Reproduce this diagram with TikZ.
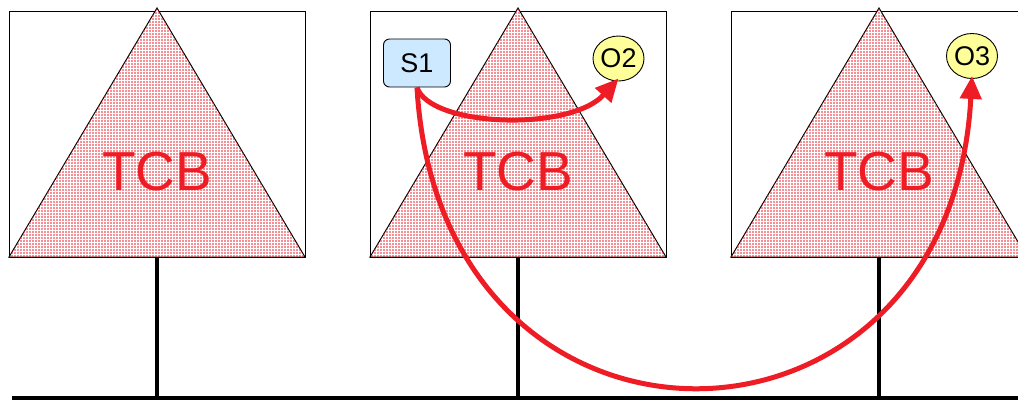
\documentclass[tikz,border=0pt]{standalone}
\usepackage{fontspec}
\setmainfont{Liberation Sans}
\usetikzlibrary{patterns.meta,arrows.meta,shapes.geometric}
\definecolor{tcbred}{HTML}{EE1C25}
\definecolor{sblue}{HTML}{CCE9FF}
\definecolor{oyellow}{HTML}{FFFF99}
\tikzset{
  host/.style={draw=black,line width=1pt},
  tcb/.style={draw=black,line width=1pt,fill=white,postaction={pattern={Dots[distance=3pt,radius=0.95pt]},pattern color=tcbred}},
  tcblabel/.style={text=tcbred,font=\fontsize{55}{55}\selectfont,inner sep=0pt},
  wire/.style={draw=black,line width=3.2pt},
  subj/.style={draw=black,line width=0.9pt,fill=sblue,rounded corners=6pt,minimum width=67pt,minimum height=48pt,inner sep=0pt,font=\fontsize{27}{27}\selectfont},
  obj/.style={draw=black,line width=0.9pt,fill=oyellow,ellipse,minimum width=51pt,minimum height=45pt,inner sep=0pt,font=\fontsize{27}{27}\selectfont},
  flow/.style={draw=tcbred,line width=5pt,-{Triangle[length=23pt,width=21pt]}}
}
\begin{document}
\begin{tikzpicture}[x=1pt,y=-1pt]
\useasboundingbox (0,0) rectangle (1018,400);
% hosts
\foreach \cx/\n in {157/1,518/2,879/3}{
  \draw[host] (\cx-148,11) rectangle (\cx+148,257);
  \draw[tcb] (\cx,8) -- (\cx+148,257) -- (\cx-148,257) -- cycle;
  \node[tcblabel] (tcb\n) at (\cx,172) {TCB};
  \coordinate (base\n) at (\cx,257);
  \coordinate (bus\n) at (\cx,398);
  \draw[wire] (base\n) -- (bus\n);
}
\coordinate (busL) at (12,398);
\coordinate (busR) at (1018,398);
\draw[wire] (busL) -- (busR);
% subject and objects
\node[subj] (S1) at (417,63) {S1};
\node[obj] (O2) at (618.5,58.5) {O2};
\node[obj] (O3) at (972,56) {O3};
% flows
\draw[flow] (S1.south) .. controls (430,127) and (570,132) .. ([yshift=3pt]O2.south);
\draw[flow] (S1.south) .. controls (440,490) and (950,485) .. ([yshift=3pt]O3.south);
\end{tikzpicture}
\end{document}
